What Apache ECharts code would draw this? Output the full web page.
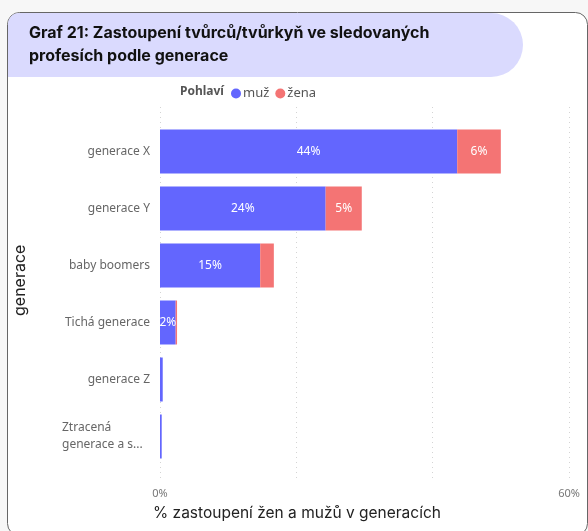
<!DOCTYPE html>
<html>
<head>
<meta charset="utf-8">
<script src="https://cdn.jsdelivr.net/npm/echarts@6/dist/echarts.min.js"></script>
<style>html,body{margin:0;padding:0;background:#f7f7f7;}#c{width:588px;height:531px;}</style>
</head>
<body>
<div id="c"></div>
<script>
const categories = ["generace X", "generace Y", "baby boomers", "Tichá generace", "generace Z", "Ztracená generace a s..."];
const muz = [43.6, 24.3, 14.7, 2.3, 0.4, 0.25];
const zena = [6.4, 5.3, 2.0, 0.2, 0.0, 0.0];
const seriesNames = ["muž", "žena"];
const xTicks = [0, 20, 40, 60];

const chart = echarts.init(document.getElementById('c'));
const lbl = {
  show: true, position: 'inside', color: '#fff', fontSize: 12, fontFamily: 'Noto Sans',
  formatter: p => p.value >= 2.2 ? Math.round(p.value) + '%' : ''
};
chart.setOption({
  backgroundColor: '#f7f7f7',
  animation: false,
  graphic: [
    { type: 'rect', z: -10, silent: true, shape: { x: 7.5, y: 12.5, width: 580, height: 523, r: 12 }, style: { fill: '#fff', stroke: '#666', lineWidth: 1 } },
    { type: 'rect', z: -9, silent: true, shape: { x: 8, y: 13, width: 515, height: 64, r: [11, 32, 32, 0] }, style: { fill: '#dadafe' } },
    { type: 'text', z: 5, left: 29, top: 22, style: { text: 'Graf 21: Zastoupení tvůrců/tvůrkyň ve sledovaných\nprofesích podle generace', font: 'bold 16px Inter', fill: '#111', lineHeight: 23 } },
    { type: 'text', z: 5, left: 180, top: 86, style: { text: 'Pohlaví', font: 'bold 12px "Noto Sans"', fill: '#555' } },
    { type: 'text', z: 5, left: 153, top: 505, style: { text: '% zastoupení žen a mužů v generacích', font: '15.5px Inter', fill: '#222' } },
    { type: 'text', z: 5, rotation: Math.PI / 2, x: 12, y: 316, style: { text: 'generace', font: '16px Inter', fill: '#222' } }
  ],
  legend: {
    data: seriesNames, left: 231, top: 87, icon: 'circle', itemWidth: 10, itemHeight: 10, itemGap: 6, padding: 0,
    textStyle: { fontSize: 13, color: '#555', fontFamily: 'Noto Sans', padding: [0, 0, 0, -3] }
  },
  grid: [
    { left: 160, width: 409, top: 123, height: 342 },
    { left: 160, width: 409, top: 107, height: 375 }
  ],
  xAxis: [
    { type: 'value', gridIndex: 0, min: 0, max: 60, interval: 20, show: false },
    { type: 'value', gridIndex: 1, min: 0, max: 60, interval: 20,
      axisLine: { show: false }, axisTick: { show: false },
      splitLine: { show: true, lineStyle: { color: '#d4d4d4', type: [1, 4], width: 1 } },
      axisLabel: { margin: 6, color: '#777', fontSize: 11, fontFamily: 'Noto Sans',
        formatter: v => (v === xTicks[0] || v === xTicks[xTicks.length - 1]) ? v + '%' : '' } }
  ],
  yAxis: [
    { type: 'category', gridIndex: 0, data: categories, inverse: true,
      axisLine: { show: false }, axisTick: { show: false },
      axisLabel: { margin: 10, color: '#666', fontSize: 12, fontFamily: 'Noto Sans', lineHeight: 17,
        formatter: v => {
          if (v.length > 16) {
            const i = v.indexOf(' ');
            return '{l|' + v.slice(0, i) + '}\n{l|' + v.slice(i + 1) + '}';
          }
          return v;
        },
        rich: { l: { width: 88, align: 'left', color: '#666', fontSize: 12, fontFamily: 'Noto Sans', lineHeight: 17 } } } },
    { type: 'value', gridIndex: 1, show: false }
  ],
  series: [
    { name: seriesNames[0], type: 'bar', stack: 's', data: muz, barWidth: 44, itemStyle: { color: '#6366fe' }, label: lbl },
    { name: seriesNames[1], type: 'bar', stack: 's', data: zena, barWidth: 44, itemStyle: { color: '#f47474' }, label: lbl }
  ]
});
</script>
</body>
</html>
